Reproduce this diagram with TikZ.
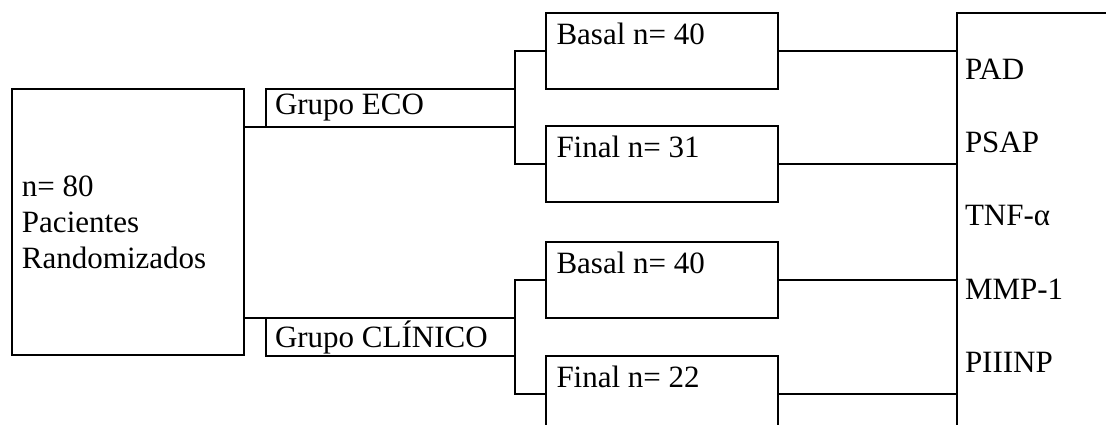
\documentclass[tikz,border=0pt]{standalone}
\usepackage{fontspec}
\setmainfont{Liberation Serif}
\usetikzlibrary{calc}

\begin{document}
\begin{tikzpicture}[
    x=0.4pt, y=-0.4pt,
    line width=0.7pt,
    font=\fontsize{12.4}{14.4}\selectfont,
    every node/.style={outer sep=0pt},
    grupo/.style={rectangle, draw, minimum width=99.6pt, minimum height=15.2pt, text width=92.4pt, inner xsep=3.6pt, inner ysep=0pt, align=flush left},
    muestra/.style={rectangle, draw, minimum width=92.8pt, minimum height=30.4pt,
        label={[anchor=north west, inner xsep=4.2pt, inner ysep=3.8pt]north west:#1}},
    medida/.style={anchor=base west, inner sep=0pt}
]
    \useasboundingbox (0,0) rectangle (1106,425);
    \clip (0,0) rectangle (1106,425);

    % Randomised patients
    \node[rectangle, draw, minimum width=92.8pt, minimum height=106.4pt, text width=84.8pt, inner xsep=4pt, align=flush left] (pac) at (128,222) {n= 80\\Pacientes\\Randomizados};

    % The two groups
    \node[grupo] (eco) at (390.5,108) {Grupo ECO};
    \node[grupo] (cli) at (390.5,337) {Grupo CLÍNICO};

    % Basal and final samples
    \node[muestra={Basal n= 40}] (basal1) at (662,51) {};
    \node[muestra={Final n= 31}] (final1) at (662,164) {};
    \node[muestra={Basal n= 40}] (basal2) at (662,280) {};
    \node[muestra={Final n= 22}] (final2) at (662,394) {};

    % Measured markers
    \node[rectangle, draw, minimum width=80pt, minimum height=176pt, anchor=north west] (medidas) at (957,13) {};
    \foreach \nombre/\txt/\y in {pad/PAD/80, psap/PSAP/153, tnf/TNF-α/226, mmp/MMP-1/300, piiinp/PIIINP/373}
        \node[medida] (\nombre) at (965,\y) {\txt};

    % Connectors
    \draw (pac.east |- eco.south) -- (eco.south east);
    \draw (pac.east |- cli.north) -- (cli.north east);
    \draw (basal1.west) -| (eco.east) |- (final1.west);
    \draw (basal2.west) -| (cli.east) |- (final2.west);
    \foreach \m in {basal1, final1, basal2, final2}
        \draw (\m.east) -- (\m.east -| medidas.west);
\end{tikzpicture}
\end{document}
